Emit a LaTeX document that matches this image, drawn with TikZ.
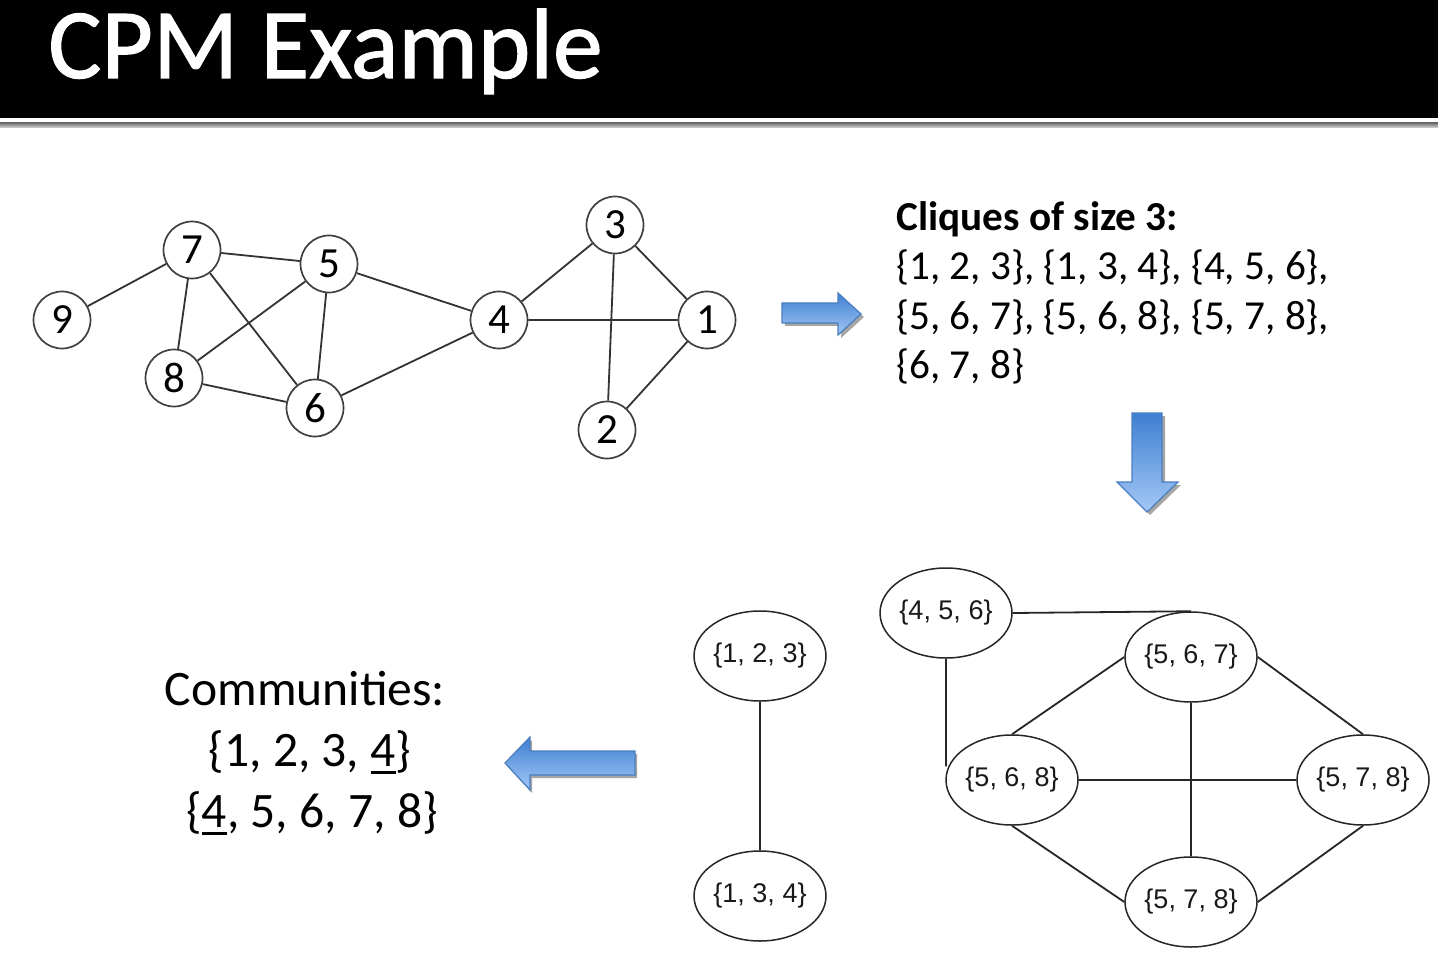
\documentclass[tikz,border=0pt]{standalone}
\usepackage{fontspec}
\setmainfont{Carlito}
\newfontfamily\arialf{Liberation Sans}
\newfontfamily\titlef[FakeBold=1.2]{Carlito}
\usetikzlibrary{shapes.geometric}
\definecolor{arrowtop}{HTML}{3F7FD0}
\definecolor{arrowbot}{HTML}{A3C8F7}
\definecolor{arrowedge}{HTML}{4A7EC0}
\newcommand\myul[1]{\setbox0\hbox{#1}\rlap{\rule[-4.2pt]{\wd0}{1.5pt}}\box0}
\begin{document}
\begin{tikzpicture}[x=0.5pt,y=-0.5pt,
  vtx/.style={circle,draw=black!75,line width=0.85pt,minimum size=28.5pt,inner sep=0pt,font=\fontsize{21.5}{21.5}\selectfont},
  cl/.style={ellipse,draw=black!85,line width=0.75pt,minimum width=66pt,minimum height=45pt,inner sep=0pt,text=black!90,font=\arialf\fontsize{13.5}{13.5}\selectfont},
  gedge/.style={draw=black!80,line width=0.9pt},
  cedge/.style={draw=black!85,line width=0.9pt},
  bluearrow/.style={top color=arrowtop,bottom color=arrowbot,draw=arrowedge,line width=0.6pt},
  arrowshadow/.style={fill=black!35},
  cliquetext/.style={anchor=base west,inner sep=0pt,font=\fontsize{20.6}{24}\selectfont},
  commtext/.style={anchor=base,inner sep=0pt,font=\fontsize{24.8}{28}\selectfont}]
\useasboundingbox (0,0) rectangle (1438,978);
\fill[white] (0,0) rectangle (1438,978);
% title bar
\fill[black] (0,0) rectangle (1438,118);
\shade[top color=black!55,bottom color=black!15] (0,123) rectangle (1438,128);
\node[anchor=base west,inner sep=0pt,text=white,font=\titlef\fontsize{49.8}{50}\selectfont] (title) at (48,78) {CPM Example};

% original graph
\node[vtx] (n9) at (62,320) {9};
\node[vtx] (n7) at (192,250) {7};
\node[vtx] (n5) at (329,264) {5};
\node[vtx] (n8) at (174,378) {8};
\node[vtx] (n6) at (315,408) {6};
\node[vtx] (n4) at (499,320) {4};
\node[vtx] (n3) at (615,225) {3};
\node[vtx] (n1) at (707,320) {1};
\node[vtx] (n2) at (607,430) {2};
\path[gedge] (n9) -- (n7) (n7) -- (n5) (n7) -- (n8) (n7) -- (n6)
  (n5) -- (n8) (n5) -- (n6) (n5) -- (n4) (n8) -- (n6) (n6) -- (n4)
  (n4) -- (n3) (n4) -- (n1) (n3) -- (n1) (n3) -- (n2) (n1) -- (n2);

% right arrow
\fill[arrowshadow,shift={(3,3)}] (782,303) -- (838,303) -- (838,293) -- (861,314) -- (838,335) -- (838,323) -- (782,323) -- cycle;
\shadedraw[bluearrow] (782,303) -- (838,303) -- (838,293) -- (861,314) -- (838,335) -- (838,323) -- (782,323) -- cycle;

% cliques text
\node[cliquetext,font=\bfseries\fontsize{20.6}{24}\selectfont] (ct0) at (896,231) {Cliques of size 3:};
\node[cliquetext] (ct1) at (896,280) {\{1, 2, 3\}, \{1, 3, 4\}, \{4, 5, 6\},};
\node[cliquetext] (ct2) at (896,329) {\{5, 6, 7\}, \{5, 6, 8\}, \{5, 7, 8\},};
\node[cliquetext] (ct3) at (896,378) {\{6, 7, 8\}};

% down arrow
\fill[arrowshadow,shift={(3,3)}] (1132,413) -- (1162,413) -- (1162,482) -- (1178,482) -- (1147,512) -- (1117,482) -- (1132,482) -- cycle;
\shadedraw[bluearrow] (1132,413) -- (1162,413) -- (1162,482) -- (1178,482) -- (1147,512) -- (1117,482) -- (1132,482) -- cycle;

% clique graph
\node[cl] (c456) at (946,613) {\{4, 5, 6\}};
\node[cl] (c567) at (1191,657) {\{5, 6, 7\}};
\node[cl] (c568) at (1012,780) {\{5, 6, 8\}};
\node[cl] (c578r) at (1363,780) {\{5, 7, 8\}};
\node[cl] (c578b) at (1191,902) {\{5, 7, 8\}};
\node[cl] (c123) at (760,656) {\{1, 2, 3\}};
\node[cl] (c134) at (760,896) {\{1, 3, 4\}};
\path[cedge] (c456.east) -- (c567.north)
  (c456.south) -- (c456.south |- c568.168)
  (c567.west) -- (c568.north)
  (c567.east) -- (c578r.north)
  (c567.south) -- (c578b.north)
  (c568.east) -- (c578r.west)
  (c568.south) -- (c578b.west)
  (c578r.south) -- (c578b.east)
  (c123.south) -- (c134.north);

% left arrow
\fill[arrowshadow,shift={(2,3)}] (505,763) -- (530,737) -- (530,751) -- (635,751) -- (635,775) -- (530,775) -- (530,790) -- cycle;
\shadedraw[bluearrow] (505,763) -- (530,737) -- (530,751) -- (635,751) -- (635,775) -- (530,775) -- (530,790) -- cycle;

% communities
\node[commtext] (cm0) at (305,705) {Communities:};
\node[commtext] (cm1) at (310,766) {\{1, 2, 3, \myul{4}\}};
\node[commtext] (cm2) at (312,827) {\{\myul{4}, 5, 6, 7, 8\}};
\end{tikzpicture}
\end{document}
